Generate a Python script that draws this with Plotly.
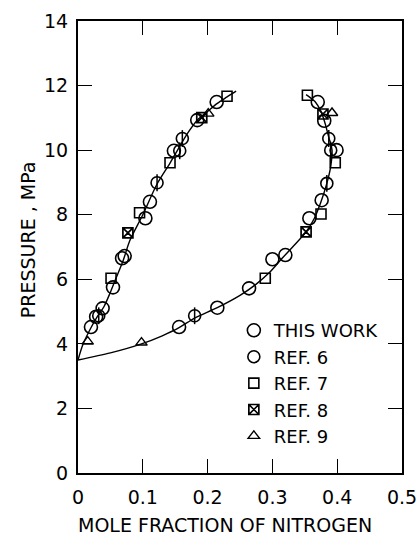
import plotly.graph_objects as go

# --- data ---
this_x = [0.020, 0.028, 0.038, 0.054, 0.068, 0.072, 0.104, 0.111, 0.148, 0.184, 0.214,
          0.370, 0.380, 0.399, 0.376, 0.357, 0.320, 0.300, 0.264, 0.215, 0.156]
this_y = [4.52, 4.84, 5.10, 5.75, 6.65, 6.72, 7.89, 8.40, 9.98, 10.93, 11.49,
          11.49, 10.91, 10.00, 8.45, 7.89, 6.75, 6.62, 5.72, 5.12, 4.52]

ref6_x = [0.032, 0.122, 0.157, 0.161, 0.387, 0.390, 0.384, 0.180]
ref6_y = [4.87, 8.99, 9.98, 10.36, 10.36, 10.00, 8.97, 4.87]

ref7_x = [0.051, 0.095, 0.142, 0.230, 0.354, 0.397, 0.375, 0.289]
ref7_y = [6.03, 8.06, 9.61, 11.67, 11.70, 9.61, 8.02, 6.03]

ref8_x = [0.077, 0.191, 0.352, 0.378]
ref8_y = [7.44, 11.01, 7.47, 11.12]

ref9_x = [0.015, 0.098, 0.201, 0.392]
ref9_y = [4.07, 4.04, 11.13, 11.15]

bubble_x = [0.0, 0.008, 0.020, 0.030, 0.040, 0.050, 0.058, 0.070, 0.080, 0.100, 0.122,
            0.142, 0.155, 0.170, 0.185, 0.200, 0.215, 0.230, 0.244]
bubble_y = [3.50, 4.00, 4.50, 4.85, 5.15, 5.60, 6.00, 6.60, 7.20, 8.00, 8.95,
            9.60, 10.05, 10.55, 10.95, 11.20, 11.45, 11.65, 11.83]

dew_x = [0.0, 0.050, 0.098, 0.130, 0.156, 0.180, 0.215, 0.250, 0.275, 0.295, 0.315,
         0.338, 0.352, 0.365, 0.375, 0.384, 0.390, 0.392, 0.387, 0.381, 0.375, 0.366, 0.352]
dew_y = [3.50, 3.72, 4.00, 4.25, 4.50, 4.80, 5.12, 5.50, 5.85, 6.20, 6.65,
         7.15, 7.47, 7.90, 8.40, 8.97, 9.50, 10.00, 10.40, 10.85, 11.20, 11.50, 11.72]

x_ticks = [0, 0.1, 0.2, 0.3, 0.4, 0.5]
x_labels = ["0", "0.1", "0.2", "0.3", "0.4", "0.5"]
y_ticks = [0, 2, 4, 6, 8, 10, 12, 14]

x_title = "MOLE FRACTION OF NITROGEN"
y_title = "PRESSURE , MPa"

FONT = "DejaVu Sans"
BLACK = "black"

fig = go.Figure()

for cx, cy in [(bubble_x, bubble_y), (dew_x, dew_y)]:
    fig.add_trace(go.Scatter(x=cx, y=cy, mode="lines", showlegend=False,
                             line=dict(color=BLACK, width=1.4, shape="spline", smoothing=0.8),
                             hoverinfo="skip"))

fig.add_trace(go.Scatter(x=this_x, y=this_y, mode="markers", name="THIS WORK",
                         marker=dict(symbol="circle-open", size=13, color=BLACK,
                                     line=dict(width=1.6, color=BLACK))))
fig.add_trace(go.Scatter(x=ref6_x, y=ref6_y, mode="markers", name="REF. 6",
                         marker=dict(symbol="circle-open", size=12, color=BLACK,
                                     line=dict(width=1.6, color=BLACK))))
fig.add_trace(go.Scatter(x=ref6_x, y=ref6_y, mode="markers", showlegend=False,
                         marker=dict(symbol="line-ns-open", size=12, color=BLACK,
                                     line=dict(width=1.5, color=BLACK))))
fig.add_trace(go.Scatter(x=ref7_x, y=ref7_y, mode="markers", name="REF. 7",
                         marker=dict(symbol="square-open", size=10, color=BLACK,
                                     line=dict(width=1.6, color=BLACK))))
fig.add_trace(go.Scatter(x=ref8_x, y=ref8_y, mode="markers", name="REF. 8",
                         marker=dict(symbol="square-x-open", size=10, color=BLACK,
                                     line=dict(width=1.7, color=BLACK))))
fig.add_trace(go.Scatter(x=ref9_x, y=ref9_y, mode="markers", name="REF. 9",
                         marker=dict(symbol="triangle-up-open", size=10, color=BLACK,
                                     line=dict(width=1.4, color=BLACK))))

axis_common = dict(
    showline=True, linecolor=BLACK, linewidth=2, mirror="ticks",
    ticks="inside", ticklen=14, tickwidth=1.2, tickcolor=BLACK,
    showgrid=False, zeroline=False, automargin=False,
    ticklabeloverflow="allow",
    tickfont=dict(family=FONT, size=19, color=BLACK),
)

fig.update_xaxes(range=[0, 0.5], tickvals=x_ticks, ticktext=x_labels,
                 ticklabelstandoff=6, **axis_common)
fig.update_yaxes(range=[0, 14], tickvals=y_ticks,
                 ticklabelstandoff=4, **axis_common)

fig.add_annotation(text=x_title, xref="paper", yref="paper", x=0.454, y=0,
                   xanchor="center", yanchor="middle", yshift=-52, showarrow=False,
                   borderpad=0, font=dict(family=FONT, size=19, color=BLACK))
fig.add_annotation(text=y_title, xref="paper", yref="paper", x=0, y=0.515,
                   xanchor="center", yanchor="middle", xshift=-50, textangle=-90,
                   borderpad=0, showarrow=False, font=dict(family=FONT, size=19, color=BLACK))

fig.update_layout(
    width=416, height=538,
    margin=dict(l=78, r=14, t=21, b=65, autoexpand=False),
    paper_bgcolor="white", plot_bgcolor="white",
    font=dict(family=FONT, size=19, color=BLACK),
    legend=dict(x=0.481, y=0.356, xanchor="left", yanchor="top",
                bgcolor="rgba(0,0,0,0)", borderwidth=0,
                font=dict(family=FONT, size=18, color=BLACK),
                itemsizing="trace", tracegroupgap=0),
)

fig.write_html("out.html", config={"displayModeBar": False},
               post_script="document.body.style.margin='0px';")
